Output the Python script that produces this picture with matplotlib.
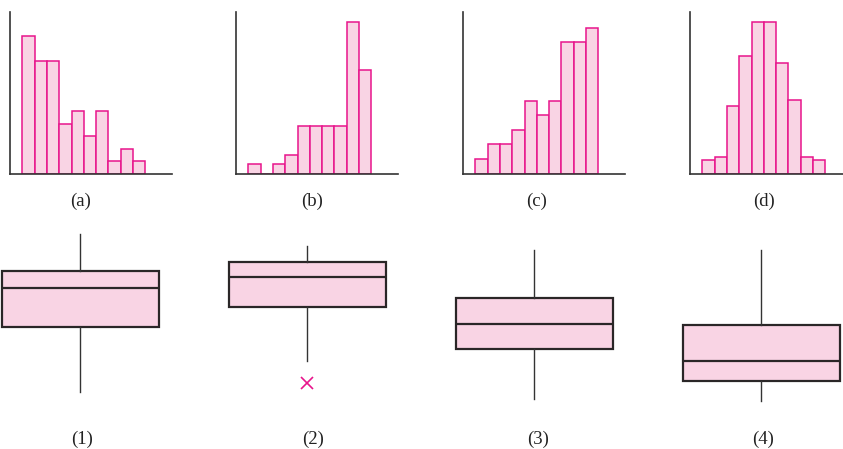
import matplotlib
matplotlib.use("Agg")
import matplotlib.pyplot as plt

# ---- data ----
hist_a = [11, 9, 9, 4, 5, 3, 5, 1, 2, 1]
hist_b = [1, 0, 1, 2, 5, 5, 5, 5, 16, 11]
hist_c = [1, 2, 2, 3, 5, 4, 5, 9, 9, 10]
hist_d = [4, 5, 20, 35, 45, 45, 33, 22, 5, 4]
hist_labels = ["(a)", "(b)", "(c)", "(d)"]
hist_ymax = [12.9, 17.1, 11.07, 48.0]

box_labels = ["(1)", "(2)", "(3)", "(4)"]
box_whislo = [10, 27, 6, 5]
box_q1 = [46, 57, 34, 16]
box_med = [68, 74, 48, 27]
box_q3 = [77, 82, 62, 47]
box_whishi = [98, 91, 89, 89]
box_fliers = [[], [15], [], []]

W, H = 843, 449
PINK = "#f9d4e4"
MAGENTA = "#e8158c"
DARK = "#2a2627"

plt.rcParams['font.family'] = ['Liberation Serif', 'DejaVu Serif']
fig = plt.figure(figsize=(W / 100, H / 100), dpi=100)

# ---- histograms ----
hists = [hist_a, hist_b, hist_c, hist_d]
axis_left_px = [10, 236, 463, 690]
label_x_px = [81, 312, 537, 764]
px_per_unit = 12.3
xmax = 13.2
base_px, top_px = 173.7, 12
for vals, lx, ymax, lab, tx in zip(hists, axis_left_px, hist_ymax, hist_labels, label_x_px):
    width_px = xmax * px_per_unit
    ax = fig.add_axes([lx / W, 1 - base_px / H, width_px / W, (base_px - top_px) / H])
    xs = [i + 1 for i in range(len(vals))]
    ax.bar(xs, vals, width=1.0, align='edge', color=PINK, edgecolor=MAGENTA, linewidth=1.1)
    ax.set_xlim(0, xmax)
    ax.set_ylim(0, ymax)
    for s in ['top', 'right']:
        ax.spines[s].set_visible(False)
    for s in ['left', 'bottom']:
        ax.spines[s].set_color('#333333')
        ax.spines[s].set_linewidth(1.2)
    ax.set_xticks([])
    ax.set_yticks([])
    ax.patch.set_alpha(0)
    fig.text(tx / W, 1 - 201 / H, lab, ha='center', va='center', fontsize=13.5, color='#222222')

# ---- box plots ----
ax2 = fig.add_axes([0, 1 - 410 / H, 1, 180 / H])
spacing = 227.0
c1 = 80.3
ax2.set_xlim(1 - c1 / spacing, 1 + (W - c1) / spacing)
ax2.set_ylim(0, 100)
stats = []
for i in range(4):
    stats.append(dict(whislo=box_whislo[i], q1=box_q1[i], med=box_med[i],
                      q3=box_q3[i], whishi=box_whishi[i], fliers=box_fliers[i]))
ax2.bxp(stats, positions=[1, 2, 3, 4], widths=157 / spacing, patch_artist=True,
        showcaps=False,
        boxprops=dict(facecolor=PINK, edgecolor=DARK, linewidth=1.6),
        medianprops=dict(color=DARK, linewidth=1.6),
        whiskerprops=dict(color='#333333', linewidth=1.0),
        flierprops=dict(marker='x', markeredgecolor=MAGENTA, markersize=9, markeredgewidth=1.2))
ax2.axis('off')

box_label_x = [82, 313, 538, 763]
for lab, tx in zip(box_labels, box_label_x):
    fig.text(tx / W, 1 - 439 / H, lab, ha='center', va='center', fontsize=13.5, color='#222222')

fig.savefig("out.png", dpi=100, facecolor='white')
